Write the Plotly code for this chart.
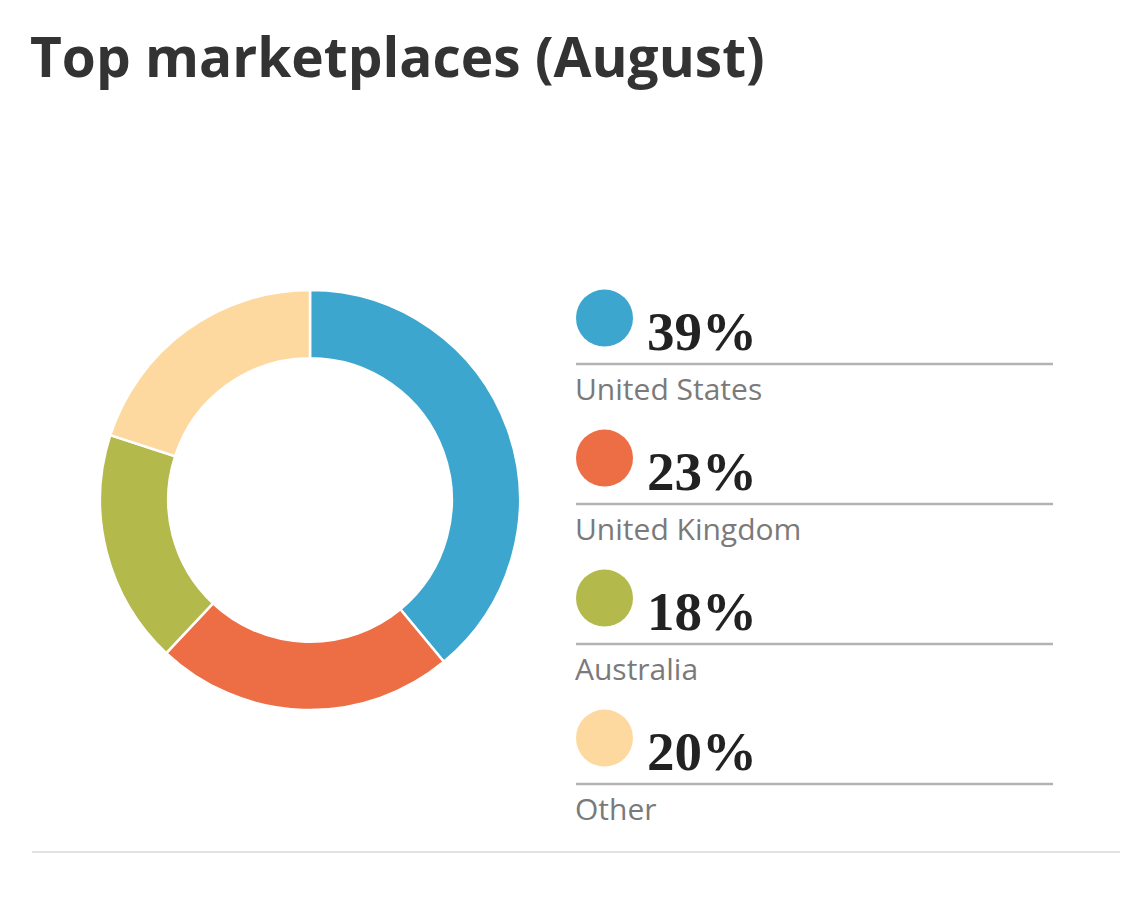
import plotly.graph_objects as go

# The page body adds an 8px margin, so the figure is drawn slightly smaller
OFF = 8
W, H = 1144 - 2 * OFF, 902 - 2 * OFF

title_text = "Top marketplaces (August)"
countries = ["United States", "United Kingdom", "Australia", "Other"]
shares = [39, 23, 18, 20]
colors = ["#3da6ce", "#ed6d45", "#b4b94c", "#fed99f"]

def px(x):
    return (x - OFF) / W

def py(y):
    return 1 - (y - OFF) / H

fig = go.Figure()
fig.add_trace(go.Pie(
    labels=countries,
    values=shares,
    hole=0.675,
    sort=False,
    direction="clockwise",
    rotation=0,
    textinfo="none",
    hoverinfo="label+percent",
    marker=dict(colors=colors, line=dict(color="white", width=2.5)),
    domain=dict(x=[px(100), px(520)], y=[py(710), py(290)]),
    showlegend=False,
))

shapes = []
annotations = []
row0 = 318
step = 140
for i, (c, v, col) in enumerate(zip(countries, shares, colors)):
    cy = row0 + i * step
    shapes.append(dict(type="circle", xref="paper", yref="paper",
                       x0=px(576), x1=px(633), y0=py(cy + 28.5), y1=py(cy - 28.5),
                       fillcolor=col, line=dict(width=0)))
    ly = cy + 46
    shapes.append(dict(type="line", xref="paper", yref="paper",
                       x0=px(576), x1=px(1053), y0=py(ly), y1=py(ly),
                       line=dict(color="#b3b3b3", width=2.5)))
    annotations.append(dict(text=f"<b>{v}%</b>", xref="paper", yref="paper",
                            x=px(645), y=py(cy + 13), xanchor="left", yanchor="middle",
                            showarrow=False,
                            font=dict(family="Liberation Serif", size=55, color="#222222")))
    annotations.append(dict(text=c, xref="paper", yref="paper",
                            x=px(573), y=py(cy + 70), xanchor="left", yanchor="middle",
                            showarrow=False,
                            font=dict(family="Open Sans", size=30, color="#7a7a7a")))

shapes.append(dict(type="line", xref="paper", yref="paper",
                   x0=px(32), x1=px(1120), y0=py(852), y1=py(852),
                   line=dict(color="#e2e2e2", width=2)))

annotations.append(dict(text=f"<b>{title_text}</b>", xref="paper", yref="paper",
                        x=px(28), y=py(56), xanchor="left", yanchor="middle",
                        showarrow=False,
                        font=dict(family="Open Sans", size=55, color="#333333")))

fig.update_layout(
    width=W, height=H,
    margin=dict(l=0, r=0, t=0, b=0),
    paper_bgcolor="white",
    plot_bgcolor="white",
    shapes=shapes,
    annotations=annotations,
)

fig.write_html("out.html")
